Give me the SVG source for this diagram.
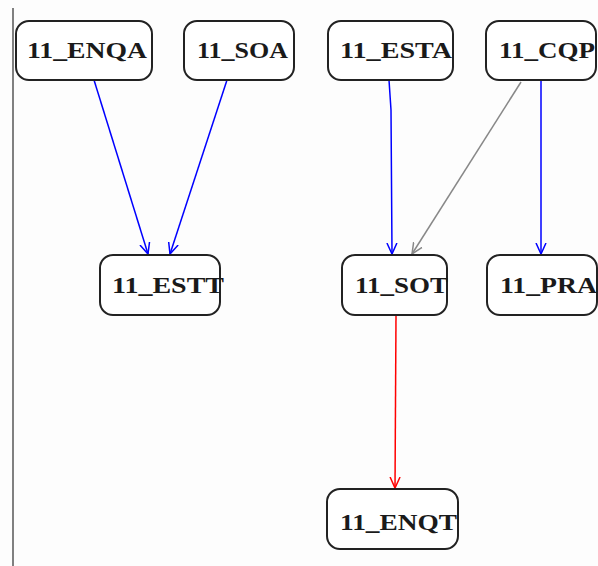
<svg xmlns="http://www.w3.org/2000/svg" width="598" height="566" viewBox="0 0 598 566">
<style>
.box{fill:#fff;stroke:#222;stroke-width:2}
.lbl{font-family:"Liberation Serif","DejaVu Serif",serif;font-weight:bold;font-size:24px;fill:#1a1a1a}
.e{fill:none;stroke-width:1.5}
</style>
<defs>
<marker id="ab" viewBox="0 0 12 12" refX="11" refY="6" markerWidth="12" markerHeight="12" markerUnits="userSpaceOnUse" orient="auto"><path d="M0,1 L11,6 L0,11" fill="none" stroke="#0000ff" stroke-width="1.5"/></marker>
<marker id="ag" viewBox="0 0 12 12" refX="11" refY="6" markerWidth="12" markerHeight="12" markerUnits="userSpaceOnUse" orient="auto"><path d="M0,1 L11,6 L0,11" fill="none" stroke="#888" stroke-width="1.5"/></marker>
<marker id="ar" viewBox="0 0 12 12" refX="11" refY="6" markerWidth="12" markerHeight="12" markerUnits="userSpaceOnUse" orient="auto"><path d="M0,1 L11,6 L0,11" fill="none" stroke="#ff0000" stroke-width="1.5"/></marker>
</defs>
<rect width="598" height="566" fill="#fdfdfd"/>
<line x1="13" y1="8" x2="13" y2="566" stroke="#808080" stroke-width="2"/>
<g id="connectors">
<line class="e" x1="94" y1="80" x2="148" y2="254" stroke="#0000ff" marker-end="url(#ab)"/>
<line class="e" x1="227" y1="80" x2="170" y2="254" stroke="#0000ff" marker-end="url(#ab)"/>
<polyline class="e" points="389,80 391,110 392,254" stroke="#0000ff" marker-end="url(#ab)"/>
<line class="e" x1="521" y1="82" x2="412" y2="254" stroke="#888" stroke-width="1.2" marker-end="url(#ag)"/>
<line class="e" x1="541" y1="80" x2="541" y2="254" stroke="#0000ff" marker-end="url(#ab)"/>
<line class="e" x1="396" y1="315" x2="395" y2="488" stroke="#ff0000" marker-end="url(#ar)"/>
</g>
<g id="n_ENQA"><rect class="box" x="16" y="21" width="136" height="59" rx="13"/><text class="lbl" x="27" y="58" textLength="120" lengthAdjust="spacingAndGlyphs">11_ENQA</text></g>
<g id="n_SOA"><rect class="box" x="184" y="21" width="110" height="59" rx="13"/><text class="lbl" x="197" y="58" textLength="91" lengthAdjust="spacingAndGlyphs">11_SOA</text></g>
<g id="n_ESTA"><rect class="box" x="328" y="21" width="125" height="59" rx="13"/><text class="lbl" x="340" y="58" textLength="112" lengthAdjust="spacingAndGlyphs">11_ESTA</text></g>
<g id="n_CQP"><rect class="box" x="486" y="21" width="110" height="59" rx="13"/><text class="lbl" x="499" y="58" textLength="96" lengthAdjust="spacingAndGlyphs">11_CQP</text></g>
<g id="n_ESTT"><rect class="box" x="100" y="255" width="120" height="60" rx="13"/><text class="lbl" x="112" y="293" textLength="112" lengthAdjust="spacingAndGlyphs">11_ESTT</text></g>
<g id="n_SOT"><rect class="box" x="342" y="255" width="105" height="60" rx="13"/><text class="lbl" x="355" y="293" textLength="93" lengthAdjust="spacingAndGlyphs">11_SOT</text></g>
<g id="n_PRA"><rect class="box" x="487" y="255" width="110" height="60" rx="13"/><text class="lbl" x="500" y="293" textLength="97" lengthAdjust="spacingAndGlyphs">11_PRA</text></g>
<g id="n_ENQT"><rect class="box" x="327" y="489" width="131" height="60" rx="13"/><text class="lbl" x="340" y="530" textLength="117" lengthAdjust="spacingAndGlyphs">11_ENQT</text></g>
</svg>
